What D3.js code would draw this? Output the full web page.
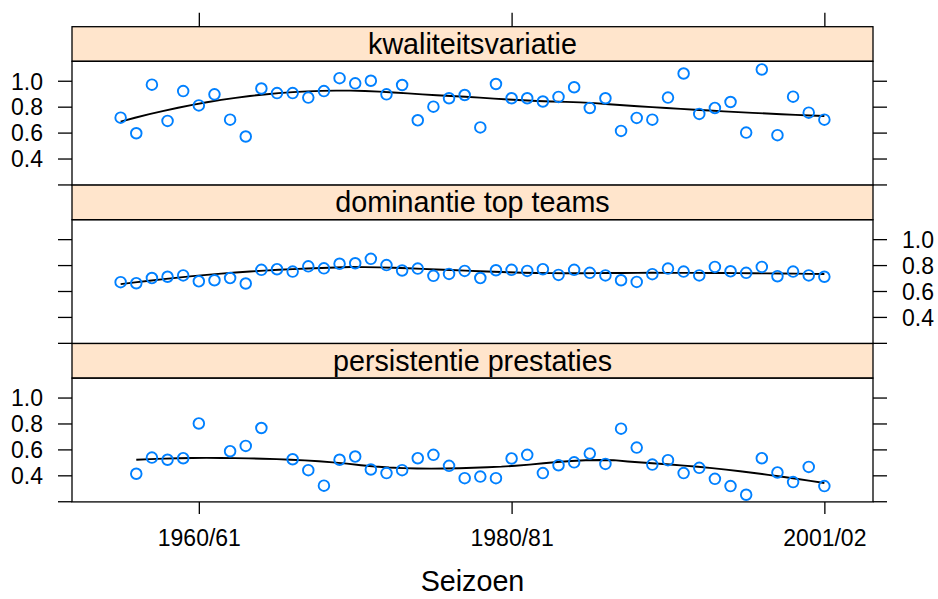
<!DOCTYPE html>
<html>
<head>
<meta charset="utf-8">
<script src="https://cdn.jsdelivr.net/npm/d3@7"></script>
<style>
  html, body { margin: 0; padding: 0; background: #ffffff; }
  svg { display: block; }
  text { font-family: "Liberation Sans", Arial, Helvetica, sans-serif; fill: #000; }
</style>
</head>
<body>
<svg id="chart" width="938" height="599"></svg>
<script>
// ---------------- data ----------------
const seasonNr = [1,2,3,4,5,6,7,8,9,10,11,12,13,14,15,16,17,18,19,20,21,22,23,
  24,25,26,27,28,29,30,31,32,33,34,35,36,37,38,39,40,41,42,43,44,45,46];

const panelNames = ["kwaliteitsvariatie", "dominantie top teams", "persistentie prestaties"];

const kwaliteitsvariatie = [0.715,0.595,0.97,0.69,0.92,0.81,0.895,0.70,0.57,0.94,
  0.905,0.905,0.87,0.92,1.02,0.98,1.0,0.895,0.967,0.695,0.80,0.865,0.89,0.64,
  0.975,0.865,0.865,0.84,0.875,0.95,0.79,0.865,0.613,0.713,0.70,0.87,1.056,0.744,
  0.79,0.836,0.60,1.087,0.58,0.877,0.754,0.70];

const dominantieTopTeams = [0.668,0.66,0.70,0.71,0.72,0.675,0.683,0.70,0.658,0.763,
  0.768,0.75,0.79,0.775,0.81,0.814,0.848,0.80,0.758,0.773,0.717,0.732,0.755,0.70,
  0.76,0.763,0.755,0.768,0.724,0.763,0.74,0.72,0.683,0.67,0.73,0.773,0.75,0.72,
  0.786,0.752,0.74,0.786,0.714,0.75,0.72,0.71];

const persistentiePrestaties = [null,0.412,0.537,0.52,0.532,0.80,null,0.586,0.627,0.765,
  null,0.524,0.44,0.32,0.52,0.545,0.445,0.417,0.44,0.532,0.558,0.473,0.378,0.39,
  0.378,0.53,0.558,0.417,0.478,0.50,0.568,0.488,0.76,0.614,0.483,0.517,0.417,0.458,
  0.373,0.317,0.25,0.532,0.422,0.348,0.465,0.317];

const xTickAt = [6, 26, 46];
const xTickLabels = ["1960/61", "1980/81", "2001/02"];
const yTicks = [0.2, 0.4, 0.6, 0.8, 1.0];
const yTickLabels = ["", "0.4", "0.6", "0.8", "1.0"];
const xLabel = "Seizoen";

const seriesList = [kwaliteitsvariatie, dominantieTopTeams, persistentiePrestaties];

// ---------------- loess smoother (local polynomial, tricube, robust) ----------------
function solve(A, b) {
  const n = b.length;
  const M = A.map((r, i) => r.concat([b[i]]));
  for (let c = 0; c < n; c++) {
    let piv = c;
    for (let r = c + 1; r < n; r++) if (Math.abs(M[r][c]) > Math.abs(M[piv][c])) piv = r;
    [M[c], M[piv]] = [M[piv], M[c]];
    for (let r = c + 1; r < n; r++) {
      const f = M[r][c] / M[c][c];
      for (let k = c; k <= n; k++) M[r][k] -= f * M[c][k];
    }
  }
  const xs = new Array(n).fill(0);
  for (let r = n - 1; r >= 0; r--) {
    let s = M[r][n];
    for (let k = r + 1; k < n; k++) s -= M[r][k] * xs[k];
    xs[r] = s / M[r][r];
  }
  return xs;
}
function loess(xs, ys, span, degree, iters, nEval) {
  const n = xs.length;
  const q = Math.floor(n * span);
  let rw = new Array(n).fill(1);
  function fitAt(x0, w) {
    const d = xs.map(x => Math.abs(x - x0));
    const sd = d.slice().sort((a, b) => a - b);
    let h = sd[q - 1];
    if (q < n) h = (h + sd[q]) / 2;
    h = Math.max(h, 1e-9);
    const m = degree + 1;
    const A = Array.from({ length: m }, () => new Array(m).fill(0));
    const b = new Array(m).fill(0);
    for (let i = 0; i < n; i++) {
      const u = d[i] / h;
      if (u >= 1) continue;
      const t = Math.pow(1 - u * u * u, 3) * w[i];
      const dx = xs[i] - x0;
      const pw = [1, dx, dx * dx];
      for (let r = 0; r < m; r++) {
        b[r] += t * pw[r] * ys[i];
        for (let c = 0; c < m; c++) A[r][c] += t * pw[r] * pw[c];
      }
    }
    return solve(A, b)[0];
  }
  for (let it = 1; it < iters; it++) {
    const res = xs.map((x, i) => ys[i] - fitAt(x, rw));
    const ar = res.map(Math.abs);
    const s = d3.median(ar) * 6;
    rw = res.map(r => { const u = Math.abs(r) / s; return u < 1 ? Math.pow(1 - u * u, 2) : 0; });
  }
  const lo = d3.min(xs), hi = d3.max(xs);
  const out = [];
  for (let k = 0; k < nEval; k++) {
    const x0 = lo + (hi - lo) * k / (nEval - 1);
    out.push([x0, fitAt(x0, rw)]);
  }
  return out;
}

// ---------------- layout ----------------
const svg = d3.select("#chart");
const left = 72, right = 873;
const top0 = 26.7, stripH = 34.6, plotH = 123.8, panelStep = stripH + plotH;

const x = d3.scaleLinear().domain([1 - 3.11, 46 + 3.11]).range([left, right]);

const tickFont = 23, stripFont = 28.7, labFont = 28.7;

panelNames.forEach((name, p) => {
  const sTop = top0 + p * panelStep;
  const pTop = sTop + stripH;
  const pBot = pTop + plotH;
  const y = d3.scaleLinear().domain([0.195, 1.15]).range([pBot, pTop]);
  const g = svg.append("g");

  // strip
  g.append("rect").attr("x", left).attr("y", sTop).attr("width", right - left).attr("height", stripH)
    .attr("fill", "#ffe5cc").attr("stroke", "#000").attr("stroke-width", 1.3);
  g.append("text").attr("x", (left + right) / 2).attr("y", sTop + 27)
    .attr("text-anchor", "middle").attr("font-size", stripFont).text(name);

  // panel box
  g.append("rect").attr("x", left).attr("y", pTop).attr("width", right - left).attr("height", plotH)
    .attr("fill", "none").attr("stroke", "#000").attr("stroke-width", 1.3);

  // y axes: ticks on both sides of every panel, labels alternate
  const leftAxis = d3.axisLeft(y).tickValues(yTicks).tickSize(14).tickPadding(15)
    .tickFormat((d, i) => (p !== 1 ? yTickLabels[i] : ""));
  const rightAxis = d3.axisRight(y).tickValues(yTicks).tickSize(14).tickPadding(15)
    .tickFormat((d, i) => (p === 1 ? yTickLabels[i] : ""));
  [[leftAxis, left], [rightAxis, right]].forEach(([ax, xp]) => {
    const a = g.append("g").attr("transform", `translate(${xp},0)`).call(ax);
    a.select(".domain").remove();
    a.selectAll(".tick line").attr("stroke", "#000").attr("stroke-width", 1.3);
    a.selectAll(".tick text").attr("font-size", tickFont).attr("font-family", null)
      .attr("dy", "0.36em");
  });

  // data
  const vals = seriesList[p];
  const pts = seasonNr.map((s, i) => ({ s, v: vals[i] })).filter(d => d.v !== null);

  const sm = loess(pts.map(d => d.s), pts.map(d => d.v), 2 / 3, 2, 4, 50);
  g.append("path").datum(sm)
    .attr("d", d3.line().x(d => x(d[0])).y(d => y(d[1])))
    .attr("fill", "none").attr("stroke", "#000").attr("stroke-width", 1.9);

  g.selectAll("circle.pt").data(pts).join("circle").attr("class", "pt")
    .attr("cx", d => x(d.s)).attr("cy", d => y(d.v)).attr("r", 5.3)
    .attr("fill", "none").attr("stroke", "#0080ff").attr("stroke-width", 1.9);

  // x axis: top ticks on first panel, bottom ticks and labels on last panel
  if (p === 0) {
    const a = g.append("g").attr("transform", `translate(0,${sTop})`)
      .call(d3.axisTop(x).tickValues(xTickAt).tickSize(14).tickFormat(() => ""));
    a.select(".domain").remove();
    a.selectAll(".tick line").attr("stroke", "#000").attr("stroke-width", 1.3);
  }
  if (p === panelNames.length - 1) {
    const a = g.append("g").attr("transform", `translate(0,${pBot})`)
      .call(d3.axisBottom(x).tickValues(xTickAt).tickSize(12).tickPadding(16)
        .tickFormat((d, i) => xTickLabels[i]));
    a.select(".domain").remove();
    a.selectAll(".tick line").attr("stroke", "#000").attr("stroke-width", 1.3);
    a.selectAll(".tick text").attr("font-size", tickFont).attr("font-family", null);
  }
});

svg.append("text").attr("x", (left + right) / 2).attr("y", 591)
  .attr("text-anchor", "middle").attr("font-size", labFont).text(xLabel);
</script>
</body>
</html>
